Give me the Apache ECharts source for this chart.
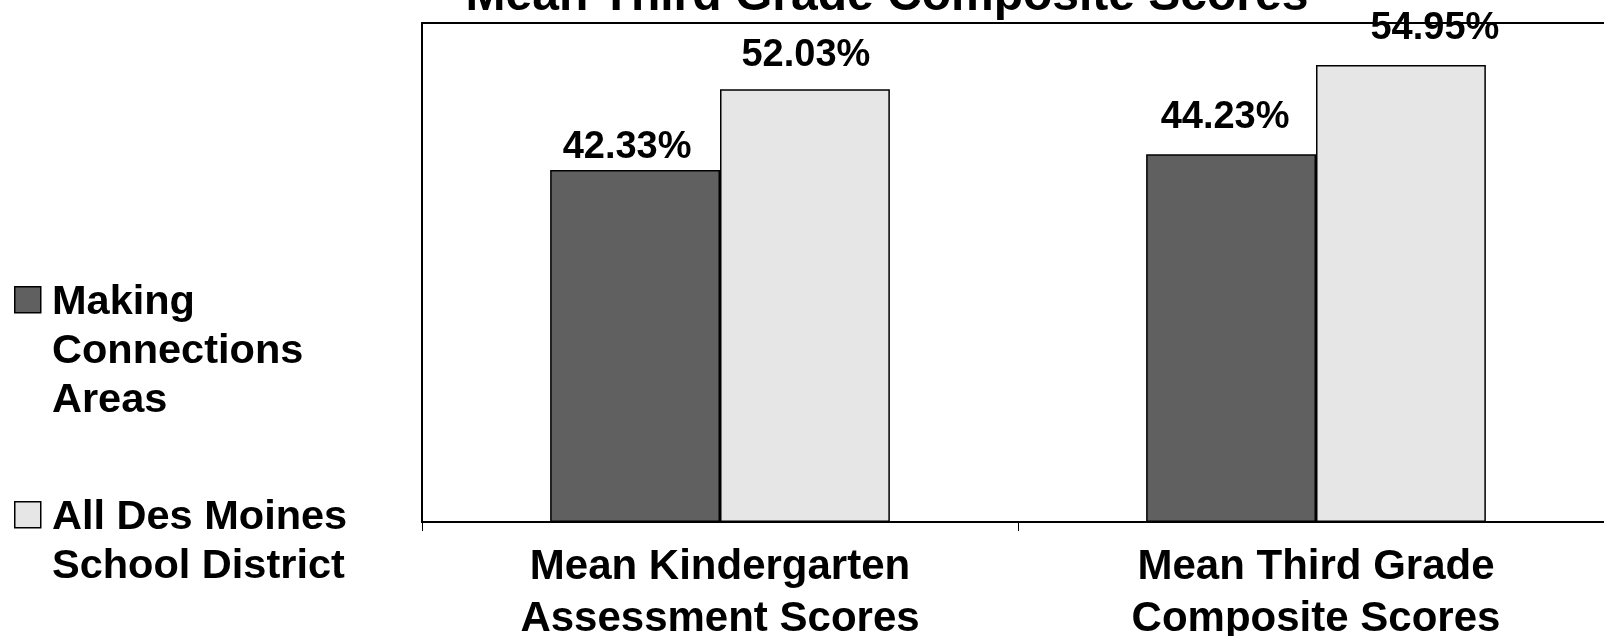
<!DOCTYPE html>
<html>
<head>
<meta charset="utf-8">
<script src="https://cdn.jsdelivr.net/npm/echarts@6/dist/echarts.min.js"></script>
<style>
  html, body { margin: 0; padding: 0; background: #fff; }
  #chart { width: 1604px; height: 636px; }
</style>
</head>
<body>
<div id="chart"></div>
<script>
// Score categories along the x axis
const categories = ['Mean Kindergarten\nAssessment Scores', 'Mean Third Grade\nComposite Scores'];
// Series names and their values (percent)
const seriesNames = ['Making\nConnections\nAreas', 'All Des Moines\nSchool District'];
const makingConnections = [42.33, 44.23];
const allDesMoines = [52.03, 54.95];
const chartTitle = 'Mean Third Grade Composite Scores';

const FONT = '"Liberation Sans", Arial, Helvetica, sans-serif';
const colors = ['#606060', '#e6e6e6'];
// Hand-placed nudges for the value labels [dx, dy], per series and category
const labelNudges = [
  [[-8, 14], [-6, -1]],
  [[1, 2], [34, 0]]
];

const chart = echarts.init(document.getElementById('chart'), null, { renderer: 'canvas' });

const valueLabel = {
  show: true,
  position: 'top',
  distance: 17,
  color: '#000',
  fontFamily: FONT,
  fontWeight: 'bold',
  fontSize: 38,
  formatter: p => p.value.toFixed(2) + '%'
};

function barSeries(idx, data) {
  return {
    name: seriesNames[idx],
    type: 'bar',
    data: data.map((v, i) => ({ value: v, label: { offset: labelNudges[idx][i] } })),
    barGap: '0%',
    barCategoryGap: '43%',
    itemStyle: { color: colors[idx], borderColor: '#000', borderWidth: 1.5 },
    label: valueLabel,
    z: 3
  };
}

// Legend drawn as swatches with left-aligned, multi-line names
const legendItems = [];
const legendTops = [286, 501];
seriesNames.forEach((name, i) => {
  legendItems.push({
    type: 'rect',
    left: 14, top: legendTops[i],
    shape: { width: 26, height: 26 },
    style: { fill: colors[i], stroke: '#000', lineWidth: 1.5 }
  });
  legendItems.push({
    type: 'text',
    left: 52, top: legendTops[i] - 8,
    style: {
      text: name,
      fill: '#000',
      font: 'bold 41.5px ' + FONT,
      lineHeight: 49
    }
  });
});

chart.setOption({
  animation: false,
  backgroundColor: '#fff',
  grid: {
    left: 422, top: 23, right: -10, bottom: 114,
    outerBoundsMode: 'none',
    containLabel: false,
    show: true,
    borderColor: '#000',
    borderWidth: 2,
    backgroundColor: 'transparent'
  },
  xAxis: {
    type: 'category',
    data: categories,
    axisLine: { lineStyle: { color: '#000', width: 2 } },
    axisTick: { show: true, alignWithLabel: false, length: 9, lineStyle: { color: '#000', width: 1 } },
    axisLabel: {
      margin: 19,
      color: '#000',
      fontFamily: FONT,
      fontWeight: 'bold',
      fontSize: 42,
      lineHeight: 52
    }
  },
  yAxis: {
    type: 'value',
    min: 0, max: 60,
    show: false,
    splitLine: { show: false }
  },
  graphic: [
    {
      type: 'text',
      x: 887, y: -3,
      style: {
        text: chartTitle,
        fill: '#000',
        font: 'bold 48px ' + FONT,
        textAlign: 'center',
        textVerticalAlign: 'middle'
      },
      z: 10
    }
  ].concat(legendItems),
  series: [
    barSeries(0, makingConnections),
    barSeries(1, allDesMoines)
  ]
});
</script>
</body>
</html>
